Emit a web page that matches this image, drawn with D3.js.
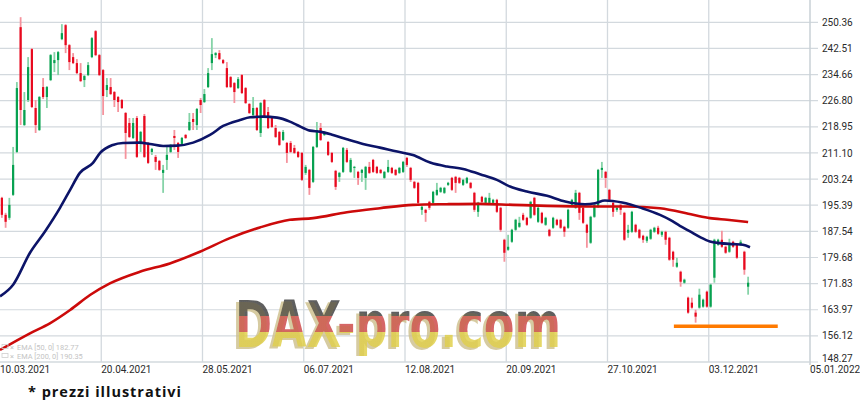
<!DOCTYPE html>
<html><head><meta charset="utf-8">
<script src="https://cdn.jsdelivr.net/npm/d3@7"></script>
<style>body{margin:0;background:#fff;} svg{display:block}</style>
</head><body>
<svg id="c" width="860" height="403"></svg>
<script>
const xTickLabels = ["10.03.2021","20.04.2021","28.05.2021","06.07.2021","12.08.2021","20.09.2021","27.10.2021","03.12.2021","05.01.2022"];
const yTickValues = [148.27,156.12,163.97,171.83,179.68,187.54,195.39,203.24,211.10,218.95,226.80,234.66,242.51,250.36];

const opens = [197.6,192.5,191.6,198.5,211.4,248.9,219.5,227.0,242.3,224.6,218.0,230.9,227.9,233.0,238.1,239.0,245.3,249.5,243.5,239.9,
238.1,235.1,233.0,234.5,239.9,247.7,240.5,236.0,230.0,230.9,229.4,227.9,227.0,223.1,220.1,215.6,221.6,214.4,222.2,214.1,
211.4,209.9,208.7,205.1,209.0,211.4,216.2,214.1,213.8,216.5,218.0,221.3,219.5,227.0,226.4,230.9,238.1,240.5,241.1,239.0,
236.6,233.9,232.1,230.6,234.5,230.6,225.8,222.5,224.6,217.1,227.0,223.4,221.9,218.6,217.4,215.0,214.1,214.1,212.6,211.4,
211.1,205.1,206.0,202.4,212.9,218.6,216.5,214.4,211.1,205.7,203.9,205.4,212.0,205.4,206.6,205.4,205.1,203.6,206.9,209.0,
206.9,206.0,203.6,205.4,206.6,206.0,205.1,205.4,209.6,206.6,202.4,202.1,194.0,194.0,196.4,196.1,198.5,199.4,199.1,201.5,
203.6,203.9,203.6,201.5,202.1,202.1,199.1,193.4,197.9,196.1,196.1,196.1,197.0,194.6,185.0,182.0,184.4,188.0,188.9,192.5,
191.6,191.6,197.6,190.4,193.1,189.5,188.0,188.6,191.0,191.0,188.9,188.6,195.5,194.6,199.1,194.6,189.5,184.1,191.9,194.9,
206.0,205.4,200.0,196.1,194.0,195.5,193.1,187.1,187.4,189.5,188.0,186.2,184.7,185.3,187.4,188.6,186.5,187.4,185.6,181.4,
176.9,175.4,172.1,167.6,166.1,163.1,164.6,164.9,169.4,164.9,173.6,183.5,185.0,182.9,181.4,184.4,183.5,183.5,181.4,170.9];
const highs = [197.9,193.1,197.6,212.9,232.4,251.9,229.4,239.9,242.6,227.0,228.2,233.6,231.2,240.8,241.4,241.7,249.8,249.8,243.8,241.1,
239.3,238.1,234.5,238.4,245.9,248.0,240.8,236.3,233.6,233.6,229.7,228.2,227.3,223.4,221.6,221.6,222.2,217.7,222.8,214.4,
212.6,210.5,209.0,207.5,212.9,213.8,218.0,214.4,215.9,216.8,223.1,223.1,224.6,227.6,230.3,236.6,245.6,241.4,242.0,239.3,
238.4,234.2,232.4,233.9,234.8,230.9,226.1,227.9,224.9,226.4,227.3,224.9,222.2,219.5,217.7,218.0,214.4,214.7,213.5,211.7,
211.4,207.5,206.3,213.2,220.4,220.1,217.7,214.7,211.4,206.0,205.4,212.9,212.6,209.6,207.2,205.7,206.3,207.2,208.4,209.3,
207.2,206.3,205.7,209.0,206.9,206.3,206.9,208.7,209.9,206.9,202.7,202.4,195.2,194.3,196.7,199.7,202.1,200.9,200.9,202.4,
203.9,204.2,203.9,203.3,203.9,202.4,199.4,196.4,198.2,197.9,199.1,197.3,197.3,194.9,185.3,186.5,188.3,191.3,191.9,193.1,
191.9,196.7,197.9,194.9,193.4,191.9,188.3,191.9,191.3,191.3,189.2,194.3,197.3,200.0,199.4,194.9,189.8,192.2,195.8,206.3,
208.4,205.7,200.3,196.4,194.9,195.8,193.4,189.5,193.7,189.8,188.3,186.5,186.2,188.3,188.9,189.2,187.7,187.7,185.9,181.7,
179.6,175.7,173.3,167.9,167.6,164.0,170.3,167.3,169.7,171.8,185.3,185.3,187.7,183.2,185.3,184.7,183.8,185.0,181.7,173.9];
const lows = [191.6,188.6,191.0,198.2,211.1,219.5,219.2,226.4,224.6,217.1,217.7,227.3,224.6,232.7,235.4,234.5,245.0,241.1,236.0,237.8,
234.8,232.4,230.9,234.2,239.6,240.2,234.2,222.5,227.9,228.5,224.9,223.4,224.3,209.3,215.6,215.3,209.6,211.4,209.6,207.8,
210.5,206.0,205.7,199.1,206.0,211.1,212.0,209.6,213.5,215.3,217.7,218.0,218.0,223.1,226.1,230.6,236.0,239.6,239.0,237.8,
230.6,230.6,226.1,230.3,228.8,225.8,222.8,222.2,217.7,215.9,221.6,218.3,218.6,215.6,213.2,214.7,208.1,211.1,210.8,209.6,
202.7,204.5,198.5,202.1,212.6,214.7,216.2,210.2,208.1,200.0,202.4,205.1,208.1,205.1,203.6,201.5,202.4,200.0,204.8,205.1,
204.8,204.8,203.3,205.1,204.8,204.2,204.8,205.1,206.9,202.4,200.3,195.8,192.5,190.4,194.0,195.8,198.2,199.1,198.8,201.2,
199.7,199.1,201.8,201.2,201.8,200.3,193.4,191.9,196.1,195.8,195.8,195.8,193.1,187.4,178.4,181.7,184.1,187.7,188.6,190.7,
189.2,191.3,192.2,190.1,189.8,189.2,185.9,188.3,189.2,188.3,185.9,188.3,195.2,194.3,191.0,189.8,182.6,183.8,191.6,194.6,
203.6,200.6,196.7,191.9,193.4,192.5,184.7,185.6,187.1,187.1,185.3,184.1,184.1,185.0,187.1,186.5,185.9,183.5,178.7,176.9,
176.6,170.9,171.8,162.8,164.3,160.1,164.3,164.6,164.6,164.6,172.1,183.2,182.6,180.8,181.1,182.6,179.3,183.2,174.5,168.5];
const closes = [192.5,190.4,195.5,207.5,230.6,224.0,224.0,236.9,224.9,219.5,227.9,227.9,230.9,240.5,239.0,241.4,247.1,243.5,238.4,238.1,
235.1,232.7,234.2,237.5,245.6,240.5,234.5,228.2,231.5,228.8,227.0,226.4,224.6,217.1,215.9,220.1,209.9,217.4,209.9,208.1,
212.3,208.4,206.0,206.0,210.5,213.5,215.6,211.4,215.6,215.6,220.4,220.4,224.3,225.5,228.8,235.1,240.8,241.1,239.3,238.1,
230.9,230.9,229.4,233.3,229.1,226.1,223.1,224.6,218.0,226.1,221.9,218.6,218.9,215.9,213.5,217.4,211.1,211.4,211.1,209.9,
203.0,206.9,200.6,212.9,218.0,215.0,217.4,210.5,208.4,200.9,205.1,212.6,208.4,209.0,206.9,203.6,206.0,206.9,205.1,205.4,
205.1,205.1,205.4,206.9,205.1,204.5,206.6,208.4,207.5,203.0,200.6,196.1,194.9,193.1,194.6,199.4,200.0,200.6,200.6,202.1,
200.0,202.1,202.1,203.0,203.6,200.6,194.0,196.1,196.4,197.6,197.6,197.0,193.4,188.0,181.1,182.9,188.0,191.0,190.1,191.0,
189.5,196.4,192.5,194.6,190.1,191.6,186.2,191.6,189.5,188.6,187.4,194.0,197.0,199.1,193.1,190.1,187.1,191.9,195.5,206.0,
206.6,203.6,197.0,193.4,194.6,194.0,185.0,188.0,193.4,187.4,185.6,185.0,185.9,188.0,188.6,186.8,187.4,185.0,179.0,179.0,
178.1,172.4,173.0,163.1,164.6,161.9,168.5,167.0,164.9,171.5,185.0,185.0,182.9,181.1,183.5,182.9,179.6,184.4,176.0,172.1];

const ema50Idx = [-0.5,3,7.5,11.5,15.5,18.2,20.8,24.3,26.2,29.6,32.3,36.8,39.5,43,46.7,51,55.5,59,63.5,66.2,69.6,73.4,76.8,78.7,82.2,84.8,88.3,92,96.3,100.8,105.4,109.6,114.2,118.7,123,127.5,132,135.5,140,145.4,150.2,155.5,158.2,160.8,165.4,170.7,175.5,178.2,180.8,183.5,186.2,188.8,191.5,195,197.6,199.5];
const ema50 = [168.0,171.5,181.1,187.5,194.6,200.0,205.1,208.1,211.1,213.5,214.1,214.2,213.8,213.2,213.3,214.2,216.5,219.2,221.0,221.8,222.0,221.7,220.5,219.5,217.8,217.5,216.5,215.2,213.8,212.7,211.5,210.5,208.2,207.0,206.3,204.7,203.0,201.0,199.5,198.2,196.5,195.7,196.0,196.8,196.2,194.5,192.5,191.0,189.2,187.5,185.8,184.5,184.0,183.7,183.5,182.77];
const ema200Idx = [-0.5,7.5,12.8,18.2,23.5,28.8,36.8,44.8,52.8,60.8,68.8,76.8,83,92,100.8,109.6,118.7,127.5,136.3,145.4,157.6,166.7,175.5,184.3,188.8,193.4,199];
const ema200 = [151.9,156.9,159.9,163.9,168.4,171.9,175.4,177.9,181.4,185.5,188.7,191.0,191.5,193.3,194.5,195.5,195.7,195.8,195.5,195.2,195.0,195.0,194.5,192.5,191.5,191.0,190.35];

const supportLevel = 159.0, supportFrom = 179.2, supportTo = 206.9;
const legendLabels = ["EMA [50, 0] 182.77", "EMA [200, 0] 190.35"];
const noteText = "* prezzi illustrativi";
const watermarkText = "DAX-pro.com";

const svg = d3.select("#c");
const W = 810, H = 362;
const x = d3.scaleLinear().domain([-0.5, 215.5]).range([0, W]);
const y = d3.scaleLinear().domain([148.27, 257.06]).range([H, 0]);
const xTickIdx = xTickLabels.map((d, i) => -0.5 + 27 * i);

const defs = svg.append("defs");
defs.append("clipPath").attr("id", "plot").append("rect").attr("x", 0).attr("y", 0).attr("width", W).attr("height", H);
defs.append("clipPath").attr("id", "wmclip").append("rect").attr("x", 0).attr("y", 0).attr("width", W).attr("height", 356);
const grad = defs.append("linearGradient").attr("id", "flag").attr("gradientUnits", "userSpaceOnUse")
  .attr("x1", 0).attr("y1", 300).attr("x2", 0).attr("y2", 348);
[[0,"#3c3c3c"],[0.33,"#3c3c3c"],[0.33,"#cc4444"],[0.66,"#cc4444"],[0.66,"#dfce45"],[1,"#dfce45"]]
  .forEach(s => grad.append("stop").attr("offset", s[0]).attr("stop-color", s[1]));
const f = defs.append("filter").attr("id", "sh").attr("x", "-5%").attr("y", "-10%").attr("width", "110%").attr("height", "130%");
f.append("feOffset").attr("in", "SourceAlpha").attr("dx", -3).attr("dy", 2).attr("result", "o");
f.append("feFlood").attr("flood-color", "#cdbf8c").attr("result", "fl");
f.append("feComposite").attr("in", "fl").attr("in2", "o").attr("operator", "in").attr("result", "s");
const fm = f.append("feMerge");
fm.append("feMergeNode").attr("in", "s");
fm.append("feMergeNode").attr("in", "SourceGraphic");

// grid
const g = svg.append("g");
g.selectAll("line.h").data(yTickValues).join("line")
  .attr("x1", 0).attr("x2", 818).attr("y1", d => y(d)).attr("y2", d => y(d))
  .attr("stroke", "#d3d9de").attr("stroke-width", 1.2);
g.selectAll("line.v").data(xTickIdx.slice(1, -1)).join("line")
  .attr("x1", d => x(d)).attr("x2", d => x(d)).attr("y1", 0).attr("y2", H)
  .attr("stroke", "#d3d9de").attr("stroke-width", 1.3);
g.append("line").attr("x1", W).attr("x2", W).attr("y1", 0).attr("y2", H + 3).attr("stroke", "#c9d0d6").attr("stroke-width", 1.5);
g.append("line").attr("x1", 0).attr("x2", W).attr("y1", H).attr("y2", H).attr("stroke", "#d3d9de").attr("stroke-width", 1.2);

// y labels
svg.append("g").selectAll("text").data(yTickValues).join("text")
  .attr("x", 822).attr("y", d => Math.min(y(d), 358)).attr("dy", "0.36em")
  .attr("font-family", "Roboto, sans-serif").attr("font-size", 10).attr("fill", "#2a2a2a")
  .text(d => d.toFixed(2));
// x labels
svg.append("g").selectAll("text").data(xTickLabels).join("text")
  .attr("x", (d, i) => x(xTickIdx[i])).attr("y", 372.5)
  .attr("font-family", "Roboto, sans-serif").attr("font-size", 10).attr("fill", "#2a2a2a")
  .text(d => d);

// watermark
svg.append("g").attr("clip-path", "url(#wmclip)")
  .append("text").attr("x", 235).attr("y", 347).text(watermarkText)
  .attr("font-family", "'DejaVu Sans Condensed', 'DejaVu Sans', sans-serif").attr("font-weight", "bold")
  .attr("font-size", 64).attr("textLength", 326).attr("lengthAdjust", "spacingAndGlyphs")
  .attr("fill", "url(#flag)").attr("fill-opacity", 0.82).attr("filter", "url(#sh)");

// candles
const idx = d3.range(opens.length);
const cg = svg.append("g").attr("clip-path", "url(#plot)");
cg.selectAll("rect.w").data(idx).join("rect")
  .attr("x", i => x(i) - 0.9).attr("width", 1.8)
  .attr("y", i => y(highs[i])).attr("height", i => Math.max(1, y(lows[i]) - y(highs[i])))
  .attr("fill", i => closes[i] >= opens[i] ? "#86d3a8" : "#f5939d");
cg.selectAll("rect.b").data(idx).join("rect")
  .attr("x", i => x(i) - 1.1).attr("width", 2.2)
  .attr("y", i => y(Math.max(opens[i], closes[i])))
  .attr("height", i => Math.max(1, Math.abs(y(opens[i]) - y(closes[i]))))
  .attr("fill", i => closes[i] >= opens[i] ? "#07a150" : "#e8091e");

// EMA lines
const line = d3.line().x(d => x(d[0])).y(d => y(d[1])).curve(d3.curveMonotoneX);
const lg = svg.append("g").attr("clip-path", "url(#plot)");
lg.append("path").attr("d", line(ema200Idx.map((v, i) => [v, ema200[i]])))
  .attr("fill", "none").attr("stroke", "#cc0a0a").attr("stroke-width", 2.6);
lg.append("path").attr("d", line(ema50Idx.map((v, i) => [v, ema50[i]])))
  .attr("fill", "none").attr("stroke", "#0c1468").attr("stroke-width", 2.6);

// support line
svg.append("line").attr("x1", x(supportFrom)).attr("x2", x(supportTo))
  .attr("y1", y(supportLevel)).attr("y2", y(supportLevel))
  .attr("stroke", "#ff7a00").attr("stroke-width", 3.5);

// legend
const leg = svg.append("g").attr("fill", "#c4c4c4").attr("font-family", "Roboto, sans-serif").attr("font-size", 7.4);
legendLabels.forEach((t, i) => {
  const yy = 347.5 + i * 9;
  leg.append("rect").attr("x", 2).attr("y", yy - 3).attr("width", 6).attr("height", 4).attr("fill", "none").attr("stroke", "#cfcfcf").attr("stroke-width", 0.8);
  leg.append("text").attr("x", 10).attr("y", yy).attr("dy", "0.33em").text("×");
  leg.append("text").attr("x", 17).attr("y", yy).attr("dy", "0.35em").text(t);
});

// note
svg.append("text").attr("x", 28).attr("y", 396.5).text(noteText)
  .attr("font-family", "'Open Sans', sans-serif").attr("font-weight", "bold").attr("font-size", 14.5)
  .attr("textLength", 153).attr("lengthAdjust", "spacing").attr("fill", "#111");
</script>
</body></html>
